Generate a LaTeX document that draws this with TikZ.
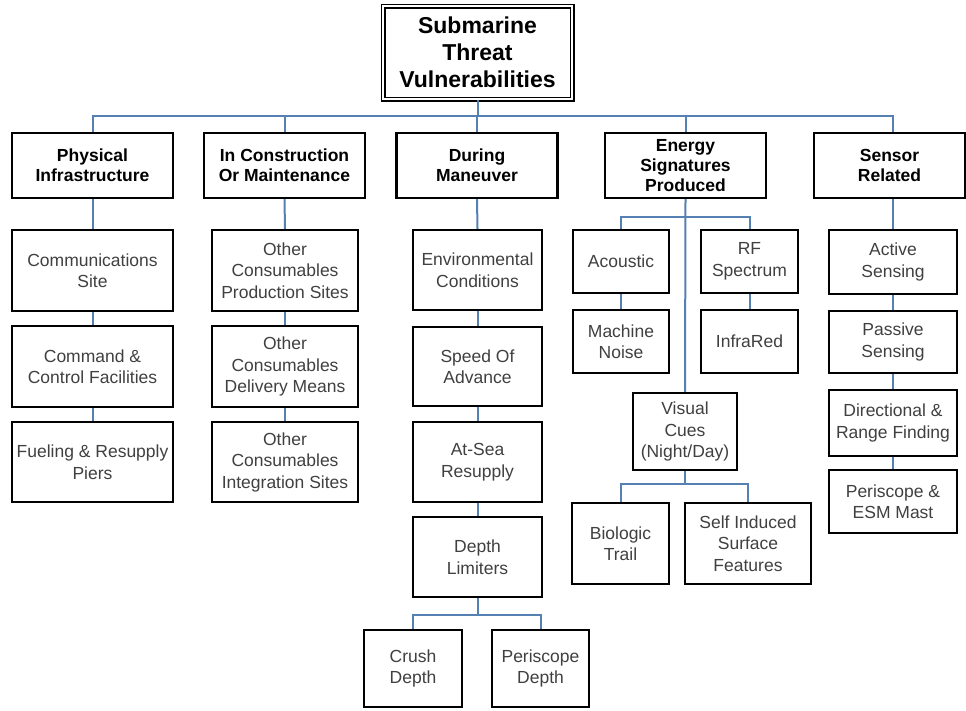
\documentclass[tikz,border=0pt]{standalone}
\usepackage{fontspec}
\setmainfont{Liberation Sans}
\definecolor{txtgray}{RGB}{64,64,64}
\definecolor{linkblue}{RGB}{84,128,178}
\begin{document}
\begin{tikzpicture}[x=1pt,y=-1pt,
  box/.style={draw=black, line width=2.2pt, fill=white, inner sep=0pt, align=center,
    text=txtgray, font=\fontsize{17.5}{21.5}\selectfont},
  cat/.style={box, text=black, font=\fontsize{17.5}{20}\selectfont\bfseries},
  sz/.style 2 args={minimum width=#1pt, minimum height=#2pt},
  conn/.style={draw=linkblue, line width=2pt}]
\useasboundingbox (0,0) rectangle (966,710);
\fill[white] (0,0) rectangle (966,710);

% title
\node[box, text=black, font=\fontsize{23}{27}\selectfont\bfseries, sz={189}{93},
  line width=1.6pt, double=white, double distance=1.8pt] (title) at (477.5,52.5)
  {Submarine\\Threat\\Vulnerabilities};

% categories
\node[cat, sz={161}{65}] (phys) at (92.5,165.5) {Physical\\Infrastructure};
\node[cat, sz={161}{65}] (cons) at (284.5,165.5) {In Construction\\Or Maintenance};
\node[cat, sz={161}{65}] (man) at (477,165.5) {During\\Maneuver};
\node[cat, sz={161}{65}] (ener) at (685.5,165.5) {Energy\\Signatures\\Produced};
\node[cat, sz={151}{65}] (sens) at (889.5,165.5) {Sensor\\Related};

% physical infrastructure
\node[box, sz={161}{81}] (comm) at (92.5,270.5) {Communications\\Site};
\node[box, sz={161}{81}] (cmd) at (92.5,366.5) {Command \&\\Control Facilities};
\node[box, sz={161}{80}] (fuel) at (92.5,462) {Fueling \& Resupply\\Piers};

% construction
\node[box, sz={146}{81}] (prod) at (285,270.5) {Other\\Consumables\\Production Sites};
\node[box, sz={146}{81}] (deli) at (285,366.5) {Other\\Consumables\\Delivery Means};
\node[box, sz={146}{80}] (integ) at (285,462) {Other\\Consumables\\Integration Sites};

% maneuver
\node[box, sz={129}{80}] (env) at (477.5,270) {Environmental\\Conditions};
\node[box, sz={129}{79}] (speed) at (477.5,366.5) {Speed Of\\Advance};
\node[box, sz={129}{80}] (atsea) at (477.5,462) {At-Sea\\Resupply};
\node[box, sz={129}{80}] (depth) at (477.5,557) {Depth\\Limiters};
\node[box, sz={98}{77}] (crush) at (413,668.5) {Crush\\Depth};
\node[box, sz={97}{77}] (peri) at (540.5,668.5) {Periscope\\Depth};

% energy
\node[box, sz={96}{63}] (acou) at (621,261.5) {Acoustic};
\node[box, sz={97}{63}] (rf) at (749.5,261.5) {RF\\Spectrum};
\node[box, sz={96}{63}] (mach) at (621,341.5) {Machine\\Noise};
\node[box, sz={97}{63}] (infra) at (749.5,341.5) {InfraRed};
\node[box, sz={104}{77}] (vis) at (685,431.5) {Visual\\Cues\\(Night/Day)};
\node[box, sz={97}{81}] (bio) at (620.5,543.5) {Biologic\\Trail};
\node[box, sz={126}{81}] (self) at (748,543.5) {Self Induced\\Surface\\Features};

% sensor
\node[box, sz={128}{64}] (act) at (893,262) {Active\\Sensing};
\node[box, sz={128}{62}] (pas) at (893,342) {Passive\\Sensing};
\node[box, sz={128}{66}] (dir) at (893,423) {Directional \&\\Range Finding};
\node[box, sz={128}{63}] (mast) at (893,501.5) {Periscope \&\\ESM Mast};

% connectors
\coordinate (bus) at (477.5,116);
\draw[conn] (title.south) -- (bus);
\draw[conn] (phys.north) -- (phys.north |- bus) -- (act.north |- bus) -- (act.north |- sens.north);
\draw[conn] (cons.north) -- (cons.north |- bus);
\draw[conn] (man.north) -- (man.north |- bus);
\draw[conn] (ener.north) -- (ener.north |- bus);

\draw[conn] (phys.south) -- (comm.north);
\draw[conn] (comm.south) -- (cmd.north);
\draw[conn] (cmd.south) -- (fuel.north);

\draw[conn] (cons.south) -- (prod.north);
\draw[conn] (prod.south) -- (deli.north);
\draw[conn] (deli.south) -- (integ.north);

\draw[conn] (man.south) -- (env.north);
\draw[conn] (env.south) -- (speed.north);
\draw[conn] (speed.south) -- (atsea.north);
\draw[conn] (atsea.south) -- (depth.north);
\coordinate (db) at (477.5,615);
\draw[conn] (depth.south) -- (db);
\draw[conn] (crush.north) |- (db) -| (peri.north);

\coordinate (eb) at (685,217);
\draw[conn] (ener.south) -- (vis.north);
\draw[conn] (acou.north) |- (eb) -| (rf.north);
\draw[conn] (acou.south) -- (mach.north);
\draw[conn] (rf.south) -- (infra.north);
\coordinate (vb) at (685,484);
\draw[conn] (vis.south) -- (vb);
\draw[conn] (bio.north) |- (vb) -| (self.north);

\draw[conn] (act.north |- sens.south) -- (act.north);
\draw[conn] (act.south) -- (pas.north);
\draw[conn] (pas.south) -- (dir.north);
\draw[conn] (dir.south) -- (mast.north);
\end{tikzpicture}
\end{document}
